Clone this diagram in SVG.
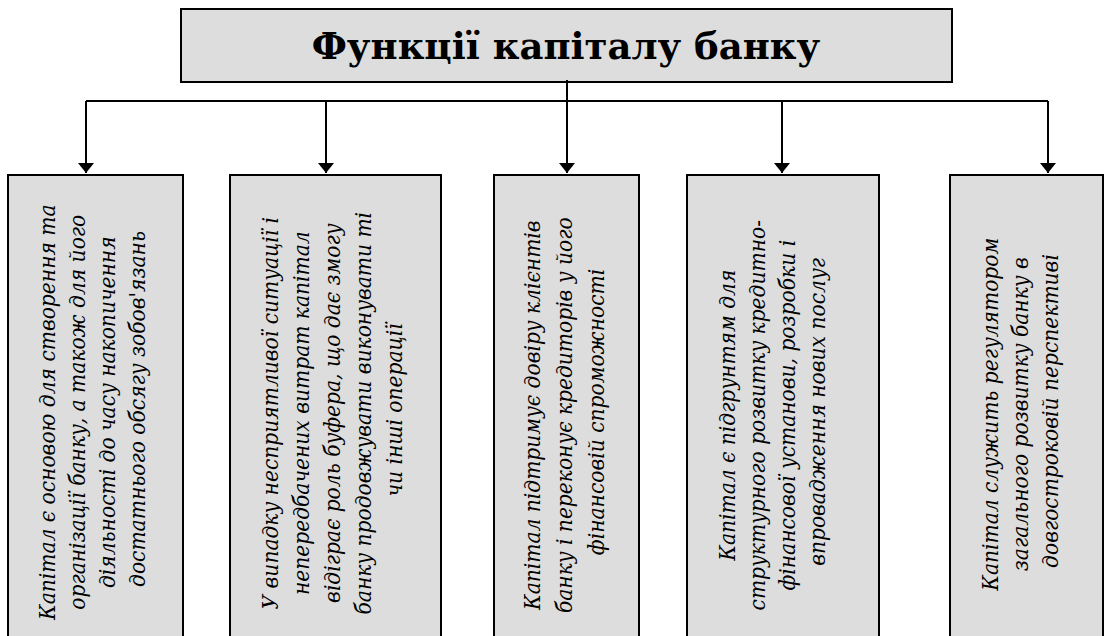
<svg xmlns="http://www.w3.org/2000/svg" width="1113" height="636" viewBox="0 0 1113 636">
<style>
.box{fill:#dddddd;stroke:#000;stroke-width:2}
.t{font-family:"DejaVu Serif Condensed","DejaVu Serif",serif;font-size:22.5px;fill:#000;font-style:italic}
.title{font-family:"DejaVu Serif",serif;font-weight:bold;font-size:37px;fill:#000}
.c{stroke:#000;stroke-width:2;fill:none}
</style>
<defs>
<marker id="ah" viewBox="0 0 10 16" refX="10" refY="8" markerWidth="10" markerHeight="16" markerUnits="userSpaceOnUse" orient="auto">
<path d="M0,0 L10,8 L0,16 z" fill="#000"/>
</marker>
</defs>
<rect width="1113" height="636" fill="#fff"/>
<g id="title">
<rect class="box" x="181" y="9" width="771" height="73"/>
<text class="title" x="566" y="59" text-anchor="middle">Функції капіталу банку</text>
</g>
<g id="connectors">
<path class="c" d="M567,80 V101 M86,101 H1048"/>
<path class="c" d="M86,101 V173" marker-end="url(#ah)"/>
<path class="c" d="M326,101 V173" marker-end="url(#ah)"/>
<path class="c" d="M567,101 V173" marker-end="url(#ah)"/>
<path class="c" d="M782,101 V173" marker-end="url(#ah)"/>
<path class="c" d="M1048,101 V173" marker-end="url(#ah)"/>
</g>
<g id="n1">
<rect class="box" x="8" y="175" width="175" height="480"/>
<text class="t" text-anchor="middle" transform="translate(55,409) rotate(-90)">
<tspan x="0" y="0">Капітал є основою для створення та</tspan>
<tspan x="0" y="30">організації банку, а також для його</tspan>
<tspan x="0" y="60">діяльності до часу накопичення</tspan>
<tspan x="0" y="90">достатнього обсягу зобов'язань</tspan>
</text>
</g>
<g id="n2">
<rect class="box" x="230" y="175" width="211" height="480"/>
<text class="t" text-anchor="middle" transform="translate(278,410) rotate(-90)">
<tspan x="0" y="0">У випадку несприятливої ситуації і</tspan>
<tspan x="0" y="31">непередбачених витрат капітал</tspan>
<tspan x="0" y="62">відіграє роль буфера, що дає змогу</tspan>
<tspan x="0" y="93">банку продовжувати виконувати ті</tspan>
<tspan x="0" y="124">чи інші операції</tspan>
</text>
</g>
<g id="n3">
<rect class="box" x="494" y="175" width="145" height="480"/>
<text class="t" text-anchor="middle" transform="translate(540,412) rotate(-90)">
<tspan x="0" y="0">Капітал підтримує довіру клієнтів</tspan>
<tspan x="0" y="32">банку і переконує кредиторів у його</tspan>
<tspan x="0" y="64">фінансовій спроможності</tspan>
</text>
</g>
<g id="n4">
<rect class="box" x="687" y="175" width="192" height="480"/>
<text class="t" text-anchor="middle" transform="translate(735,412) rotate(-90)">
<tspan x="0" y="0">Капітал є підгрунтям для</tspan>
<tspan x="0" y="30">структурного розвитку кредитно-</tspan>
<tspan x="0" y="60">фінансової установи, розробки і</tspan>
<tspan x="0" y="90">впровадження нових послуг</tspan>
</text>
</g>
<g id="n5">
<rect class="box" x="950" y="175" width="153" height="480"/>
<text class="t" text-anchor="middle" transform="translate(998,411) rotate(-90)">
<tspan x="0" y="0">Капітал служить регулятором</tspan>
<tspan x="0" y="30">загального розвитку банку в</tspan>
<tspan x="0" y="60">довгостроковій перспективі</tspan>
</text>
</g>
</svg>
